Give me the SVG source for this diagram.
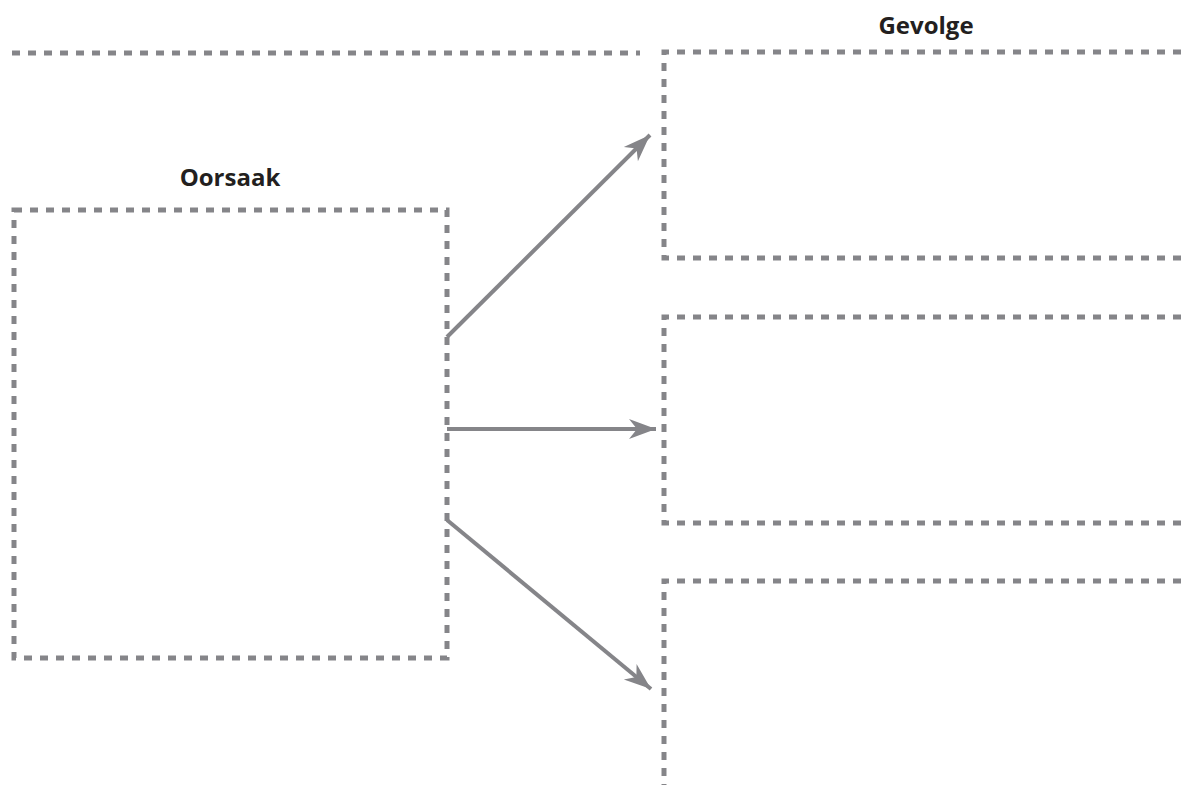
<svg xmlns="http://www.w3.org/2000/svg" width="1181" height="785" viewBox="0 0 1181 785">
<style>
.dash{fill:none;stroke:#858589;stroke-width:5;stroke-dasharray:8 8}
.conn{fill:none;stroke:#858589;stroke-width:4}
.lbl{font-family:"Open Sans","Liberation Sans",sans-serif;font-weight:700;font-size:24px;fill:#231f20;text-anchor:middle}
</style>
<defs>
<marker id="ah" markerUnits="userSpaceOnUse" markerWidth="30" markerHeight="24" viewBox="-28 -12 30 24" refX="0" refY="0" orient="auto">
<path d="M0,0 L-27,-10 L-19,0 L-27,10 Z" fill="#858589"/>
</marker>
</defs>
<g id="top-line"><path class="dash" d="M12,53 H640"/></g>
<g id="oorsaak">
<rect class="dash" x="14" y="210" width="433" height="448"/>
<text class="lbl" x="230" y="186">Oorsaak</text>
</g>
<g id="gevolge-label"><text class="lbl" x="926" y="34">Gevolge</text></g>
<g id="gevolg1"><path class="dash" d="M1181,52 H664 V258 H1181"/></g>
<g id="gevolg2"><path class="dash" d="M1181,317 H664 V523 H1181"/></g>
<g id="gevolg3"><path class="dash" d="M1181,581 H664 V785"/></g>
<g id="connectors">
<path class="conn" d="M447,337 L650,135" marker-end="url(#ah)"/>
<path class="conn" d="M447,429 L656,429" marker-end="url(#ah)"/>
<path class="conn" d="M447,520 L651,689" marker-end="url(#ah)"/>
</g>
</svg>
